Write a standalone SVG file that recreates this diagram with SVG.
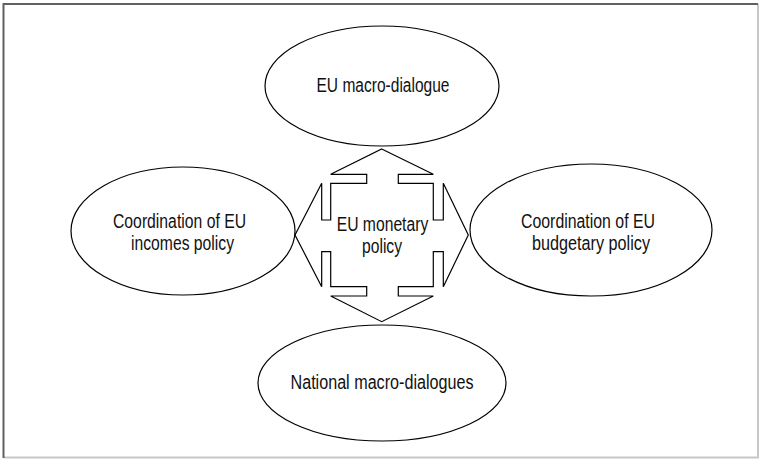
<svg xmlns="http://www.w3.org/2000/svg" width="760" height="459" viewBox="0 0 760 459">
<style>
.node{fill:#fff;stroke:#000;stroke-width:1.2}
.lbl{font-family:"Liberation Sans",Arial,sans-serif;font-size:20px;fill:#111;text-anchor:middle}
</style>
<rect width="760" height="459" fill="#fff"/>
<g id="frame" fill="none" stroke-width="2">
<path d="M758 4 V457.5 H3.5" stroke="#c8c8c8"/>
<path d="M3.5 458 V4 H758" stroke="#606060"/>
</g>
<g id="connectors">
<polygon class="node" points="381.7,149 433.3,174.3 398.3,174.3 398.3,183.3 433.3,183.3 433.3,220 443.3,220 443.3,183.3 468.3,235 443.3,286.7 443.3,251.7 433.3,251.7 433.3,286.7 398.3,286.7 398.3,296 433.3,296 381.7,321.7 330.7,296 366.7,296 366.7,286.7 330.7,286.7 330.7,251.7 321.7,251.7 321.7,286.7 295,235 321.7,183.3 321.7,220 330.7,220 330.7,183.3 366.7,183.3 366.7,174.3 330.7,174.3"/>
</g>
<g id="center">
<text class="lbl" x="382.5" y="231" textLength="91.6" lengthAdjust="spacingAndGlyphs">EU monetary</text>
<text class="lbl" x="382" y="252.5" textLength="40" lengthAdjust="spacingAndGlyphs">policy</text>
</g>
<g id="top">
<ellipse class="node" cx="382" cy="86" rx="117" ry="60"/>
<text class="lbl" x="383" y="92" textLength="133" lengthAdjust="spacingAndGlyphs">EU macro-dialogue</text>
</g>
<g id="left">
<ellipse class="node" cx="183" cy="231" rx="112" ry="64"/>
<text class="lbl" x="179.5" y="227.5" textLength="133" lengthAdjust="spacingAndGlyphs">Coordination of EU</text>
<text class="lbl" x="182.5" y="249.5" textLength="103" lengthAdjust="spacingAndGlyphs">incomes policy</text>
</g>
<g id="right">
<ellipse class="node" cx="591" cy="230" rx="121" ry="66"/>
<text class="lbl" x="588" y="227.5" textLength="134" lengthAdjust="spacingAndGlyphs">Coordination of EU</text>
<text class="lbl" x="591" y="249.5" textLength="118" lengthAdjust="spacingAndGlyphs">budgetary policy</text>
</g>
<g id="bottom">
<ellipse class="node" cx="382" cy="383" rx="124" ry="58"/>
<text class="lbl" x="382" y="388.5" textLength="183" lengthAdjust="spacingAndGlyphs">National macro-dialogues</text>
</g>
</svg>
